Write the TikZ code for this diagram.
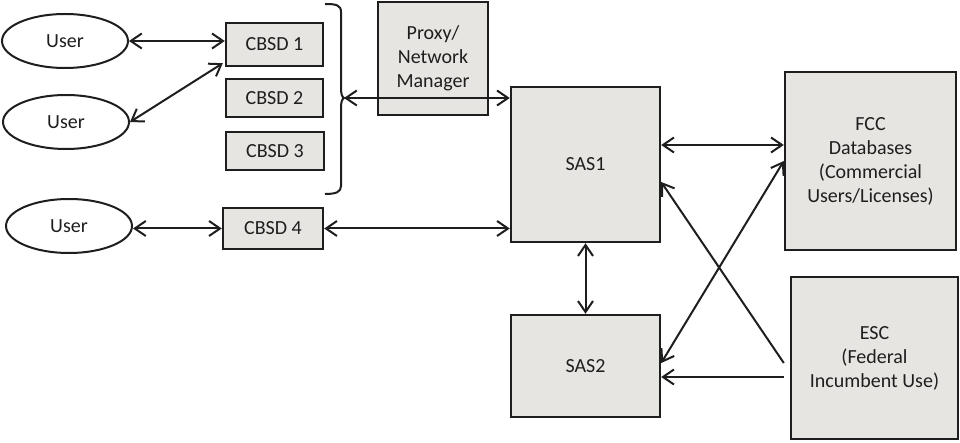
\documentclass[tikz,border=0pt]{standalone}
\usepackage{fontspec}
\setmainfont{Carlito}
\usetikzlibrary{shapes.geometric,arrows.meta}
\definecolor{boxfill}{RGB}{231,229,226}
\definecolor{ink}{RGB}{30,30,30}
\tikzset{
  box/.style={draw=ink,fill=boxfill,line width=2.4pt,inner sep=0pt,align=center,text=ink,
    font=\fontsize{20}{24}\selectfont},
  user/.style={draw=ink,ellipse,line width=2pt,inner sep=0pt,minimum width=126pt,minimum height=54pt,text=ink,
    font=\fontsize{20}{24}\selectfont},
  conn/.style={draw=ink,line width=2pt},
  tip/.tip={Straight Barb[length=11pt,width=15pt,line width=2pt]},
  both/.style={conn,tip-tip},
  one/.style={conn,-tip}
}
\begin{document}
\begin{tikzpicture}[x=1pt,y=-1pt]
\useasboundingbox (0,0) rectangle (960,443);
% users
\node[user] (u1) at (65,41) {User};
\node[user] (u2) at (66,122) {User};
\node[user] (u3) at (69,226) {User};
% CBSDs
\node[box,minimum width=97pt,minimum height=43pt] (c1) at (274.5,44.5) {CBSD 1};
\node[box,minimum width=97pt,minimum height=38pt] (c2) at (274.5,98) {CBSD 2};
\node[box,minimum width=98pt,minimum height=38pt] (c3) at (275,151) {CBSD 3};
\node[box,minimum width=100pt,minimum height=41pt] (c4) at (273,228.5) {CBSD 4};
% proxy
\node[box,minimum width=110pt,minimum height=113pt] (px) at (433,58.5) {Proxy/\\Network\\Manager};
% SAS
\node[box,minimum width=149pt,minimum height=155pt] (s1) at (585.5,164.5) {SAS1};
\node[box,minimum width=149pt,minimum height=102pt] (s2) at (585.5,366) {SAS2};
% FCC, ESC
\node[box,minimum width=171pt,minimum height=178pt] (fcc) at (870.5,161) {FCC\\Databases\\(Commercial\\Users/Licenses)};
\node[box,minimum width=167pt,minimum height=162pt] (esc) at (874.5,358) {ESC\\(Federal\\Incumbent Use)};
% brace
\coordinate (bt) at (325,4);
\coordinate (bm) at (344,98);
\coordinate (bb) at (325,194);
\draw[draw=ink,line width=2pt,line join=round]
  (bt) .. controls (336,4) and (341,5) .. (341,12) -- (341,88)
  .. controls (341,94) and (342,97) .. (bm)
  .. controls (342,99) and (341,102) .. (341,108) -- (341,186)
  .. controls (341,192) and (336,194) .. (bb);
% connectors
\draw[both] (u1.east) -- (u1.east -| c1.west);
\coordinate (c1in) at ([xshift=-2pt,yshift=4pt]c1.south west);
\draw[both] (u2.east) -- (c1in);
\draw[both] (c4.west) -- (c4.west -| u3.east);
\draw[both] (bm) -- (bm -| s1.west);
\draw[both] (c4.east) -- (c4.east -| s1.west);
\coordinate (a1) at ([yshift=19.5pt]s1.east);
\draw[both] (a1) -- (a1 -| fcc.west);
\draw[both] (s1.south) -- (s2.north);
\coordinate (e1) at ([xshift=-6pt,yshift=-5pt]esc.west);
\coordinate (e2) at ([xshift=-6pt,yshift=-19pt]esc.west);
\coordinate (s1in) at ([yshift=-17.5pt]s1.east);
\coordinate (s2in) at ([yshift=3pt]s2.east);
\draw[one] (e1) -- (s1in);
\draw[both] (fcc.west) -- (s2in);
\draw[one] (e2) -- (e2 -| s2.east);
\end{tikzpicture}
\end{document}
